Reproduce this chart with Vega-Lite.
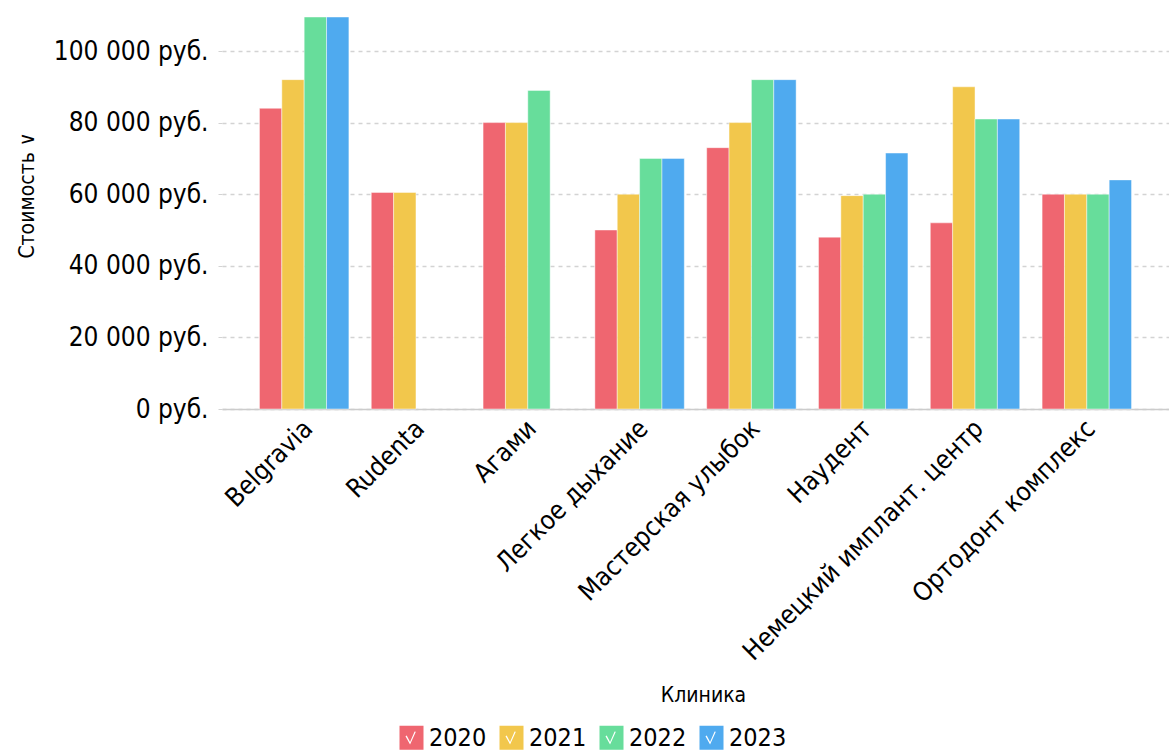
{
  "$schema": "https://vega.github.io/schema/vega-lite/v6.json",
  "width": 947,
  "height": 392,
  "autosize": {"type": "none"},
  "padding": {"left": 222, "top": 17, "right": 0, "bottom": 346},
  "background": "white",
  "config": {
    "font": "DejaVu Sans Condensed, Noto Sans, sans-serif",
    "view": {"stroke": null},
    "axis": {"labelColor": "#000", "titleColor": "#000", "labelFont": "DejaVu Sans Condensed, Noto Sans, sans-serif", "titleFont": "DejaVu Sans Condensed, Noto Sans, sans-serif"},
    "legend": {"labelFont": "DejaVu Sans Condensed, Noto Sans, sans-serif"}
  },
  "data": {
    "values": [
      {"clinic": "Belgravia", "year": "2020", "value": 84000},
      {"clinic": "Belgravia", "year": "2021", "value": 92000},
      {"clinic": "Belgravia", "year": "2022", "value": 109500},
      {"clinic": "Belgravia", "year": "2023", "value": 109500},
      {"clinic": "Rudenta", "year": "2020", "value": 60500},
      {"clinic": "Rudenta", "year": "2021", "value": 60500},
      {"clinic": "Агами", "year": "2020", "value": 80000},
      {"clinic": "Агами", "year": "2021", "value": 80000},
      {"clinic": "Агами", "year": "2022", "value": 89000},
      {"clinic": "Легкое дыхание", "year": "2020", "value": 50000},
      {"clinic": "Легкое дыхание", "year": "2021", "value": 60000},
      {"clinic": "Легкое дыхание", "year": "2022", "value": 70000},
      {"clinic": "Легкое дыхание", "year": "2023", "value": 70000},
      {"clinic": "Мастерская улыбок", "year": "2020", "value": 73000},
      {"clinic": "Мастерская улыбок", "year": "2021", "value": 80000},
      {"clinic": "Мастерская улыбок", "year": "2022", "value": 92000},
      {"clinic": "Мастерская улыбок", "year": "2023", "value": 92000},
      {"clinic": "Наудент", "year": "2020", "value": 48000},
      {"clinic": "Наудент", "year": "2021", "value": 59600},
      {"clinic": "Наудент", "year": "2022", "value": 60000},
      {"clinic": "Наудент", "year": "2023", "value": 71500},
      {"clinic": "Немецкий имплант. центр", "year": "2020", "value": 52000},
      {"clinic": "Немецкий имплант. центр", "year": "2021", "value": 90000},
      {"clinic": "Немецкий имплант. центр", "year": "2022", "value": 81000},
      {"clinic": "Немецкий имплант. центр", "year": "2023", "value": 81000},
      {"clinic": "Ортодонт комплекс", "year": "2020", "value": 60000},
      {"clinic": "Ортодонт комплекс", "year": "2021", "value": 60000},
      {"clinic": "Ортодонт комплекс", "year": "2022", "value": 60000},
      {"clinic": "Ортодонт комплекс", "year": "2023", "value": 64000}
    ]
  },
  "mark": {"type": "bar", "stroke": "white", "strokeOpacity": 0.45, "strokeWidth": 1},
  "encoding": {
    "x": {
      "field": "clinic",
      "type": "nominal",
      "sort": null,
      "scale": {"paddingInner": 0.2, "paddingOuter": 0.335},
      "axis": {
        "title": "Клиника",
        "titleFontSize": 21,
        "titleFontWeight": "normal",
        "titleBaseline": "alphabetic",
        "titleY": 292,
        "titleX": 481,
        "labelAngle": -45,
        "labelFontSize": 26,
        "labelPadding": 6,
        "labelLimit": 0,
        "labelOffset": -5,
        "ticks": false,
        "domainColor": "#cccccc",
        "domainWidth": 1.5,
        "grid": false
      }
    },
    "xOffset": {"field": "year", "type": "nominal", "scale": {"paddingInner": 0, "paddingOuter": 0}},
    "y": {
      "field": "value",
      "type": "quantitative",
      "scale": {"domain": [0, 109500], "nice": false, "zero": true},
      "axis": {
        "title": "Стоимость  ∨",
        "titleFontSize": 21,
        "titleFontWeight": "normal",
        "titlePadding": 16,
        "titleY": 178,
        "values": [0, 20000, 40000, 60000, 80000, 100000],
        "labelExpr": "replace(format(datum.value, ',d'), regexp(',', 'g'), ' ') + ' руб.'",
        "labelFontSize": 26,
        "labelPadding": 9,
        "domain": false,
        "ticks": true,
        "tickSize": 5,
        "tickColor": "#d3d3d3",
        "tickDash": [4, 4],
        "grid": true,
        "gridColor": "#d3d3d3",
        "gridDash": [4, 4],
        "gridWidth": 1.3
      }
    },
    "color": {
      "field": "year",
      "type": "nominal",
      "scale": {"domain": ["2020", "2021", "2022", "2023"], "range": ["#EF6670", "#F2C74C", "#67DD9B", "#4FAAEF"]},
      "legend": {
        "title": null,
        "orient": "none",
        "direction": "horizontal",
        "legendX": 177,
        "legendY": 708,
        "symbolType": "M-1,-1H1V1H-1Z M-0.5,-0.12 L-0.12,0.56 L0.36,-0.5 L0.26,-0.52 L-0.12,0.36 L-0.4,-0.18 Z",
        "symbolSize": 576,
        "symbolStrokeWidth": 0,
        "symbolOpacity": 1,
        "labelFontSize": 25,
        "labelOffset": 5,
        "columnPadding": 12,
        "labelColor": "#000"
      }
    }
  }
}
